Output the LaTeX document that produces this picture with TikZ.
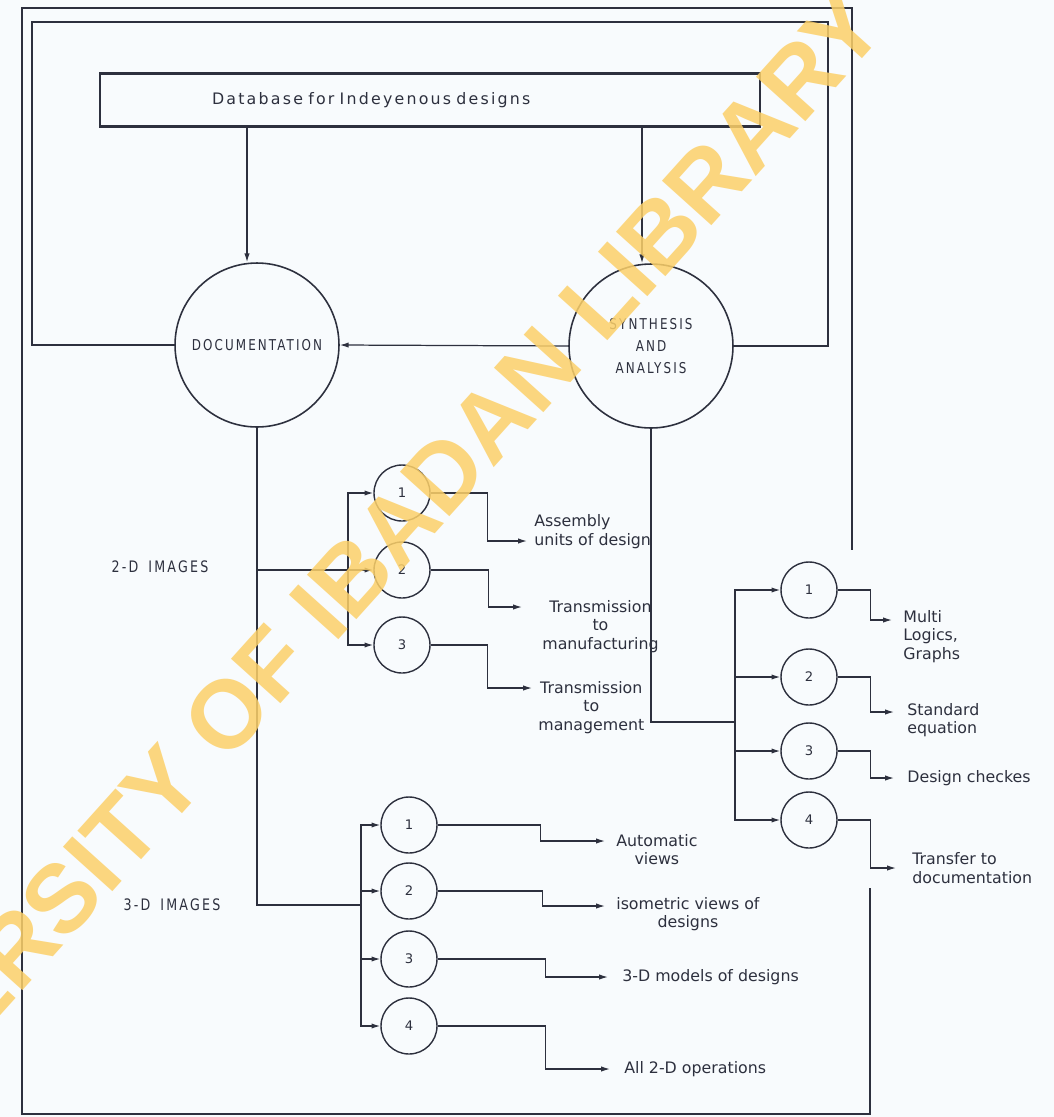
\documentclass[tikz,border=0pt]{standalone}
\usepackage{fontspec}
\usepackage{tikz}
\usetikzlibrary{arrows.meta, positioning, calc}
\newfontfamily\lettering{DejaVu Sans}
\newfontfamily\capletters[FakeStretch=0.8,LetterSpace=14,WordSpace=1.6]{DejaVu Sans}
\newfontfamily\titleletters[LetterSpace=14,WordSpace=2.4]{DejaVu Sans}
\newfontfamily\stampfont{Liberation Sans}
\definecolor{ink}{RGB}{45,48,62}
\definecolor{paper}{RGB}{248,251,253}
\definecolor{stamp}{RGB}{252,208,105}

\begin{document}
\begin{tikzpicture}[x=0.02cm, y=-0.02cm,
  line/.style={draw=ink, line width=0.7pt},
  frame/.style={draw=ink, line width=1.4pt},
  flow/.style={line, -{Latex[length=5pt,width=3pt]}},
  bigcirc/.style={circle, draw=ink, line width=0.9pt, minimum size=3.28cm,
    inner sep=0pt, text=ink, align=center,
    font=\capletters\fontsize{8.5}{12.5}\selectfont},
  numcirc/.style={circle, draw=ink, line width=0.8pt, minimum size=1.12cm,
    inner sep=0pt, text=ink, font=\lettering\fontsize{7.5}{9}\selectfont},
  lbl/.style={text=ink, inner sep=0pt, font=\lettering\fontsize{9}{10.5}\selectfont},
  grouplbl/.style={text=ink, inner sep=0pt, font=\capletters\fontsize{9}{11}\selectfont},
  dbbox/.style={draw=ink, line width=1.5pt, minimum width=13.2cm,
    minimum height=1.06cm, inner xsep=2.24cm, text width=8.72cm, align=left,
    text=ink, font=\titleletters\fontsize{9}{11}\selectfont}]
  \fill[paper] (0,0) rectangle (1054,1117);
  \useasboundingbox (0,0) rectangle (1054,1117);

  % database and the two main processes
  \node[dbbox] (db) at (430,100) {Database for Indeyenous designs};
  \node[bigcirc] (doc) at (257,345) {DOCUMENTATION};
  \node[bigcirc] (syn) at (651,346) {SYNTHESIS\\AND\\ANALYSIS};
  \coordinate (dL) at ($(doc.north)+(-10,0)$);
  \coordinate (sL) at ($(syn.north)+(-9,0)$);
  \draw[flow] (db.south -| dL) -- (dL);
  \draw[flow] (db.south -| sL) -- (sL);
  \draw[flow] (syn.west) -- (doc.east);

  % feedback frames
  \draw[line, line width=1pt] (doc.west) -| (32,22) -| (828,346) -- (syn.east);
  \draw[frame] (870,888) -- (870,1114) -- (22,1114) -- (22,8) -- (852,8) -- (852,550);

  % 2-D images
  \node[grouplbl] (img2) at (160,567) {2-D IMAGES};
  \foreach \n/\y in {1/493,2/570,3/645}
    \node[numcirc] (b\n) at (402,\y) {\n};
  \coordinate (j2) at (348,570);
  \draw[flow] (doc.south |- j2) -- (b2.west);
  \draw[flow] (j2) |- (b1.west);
  \draw[flow] (j2) |- (b3.west);
  \coordinate (ab1) at (527,541);
  \coordinate (ab2) at (522,607);
  \coordinate (ab3) at (532,688);
  \draw[flow] (b1.east) -- ++(57,0) |- (ab1);
  \draw[flow] (b2.east) -- ++(58,0) |- (ab2);
  \draw[flow] (b3.east) -- ++(57,0) |- (ab3);
  \node[lbl, align=left, anchor=south west] (tb1) at ($(ab1)+(7,8)$) {Assembly\\units of design};
  \node[lbl, align=center, anchor=north west] (tb2) at ($(ab2)+(20,-7)$) {Transmission\\to\\manufacturing};
  \node[lbl, align=center, anchor=north west] (tb3) at ($(ab3)+(6,-7)$) {Transmission\\to\\management};

  % 3-D images
  \node[grouplbl] (img3) at (172,905) {3-D IMAGES};
  \foreach \n/\y in {1/825,2/891,3/959,4/1026}
    \node[numcirc] (c\n) at (409,\y) {\n};
  \coordinate (j3) at (361,905);
  \draw[line] (doc.south) |- (j3);
  \foreach \n in {1,...,4}
    \draw[flow] (j3) |- (c\n.west);
  \coordinate (ac1) at (605,841);
  \coordinate (ac2) at (605,906);
  \coordinate (ac3) at (608,977);
  \coordinate (ac4) at (610,1069);
  \draw[flow] (c1.east) -- ++(103,0) |- (ac1);
  \draw[flow] (c2.east) -- ++(105,0) |- (ac2);
  \draw[flow] (c3.east) -- ++(108,0) |- (ac3);
  \draw[flow] (c4.east) -- ++(108,0) |- (ac4);
  \node[lbl, align=center, anchor=north west] (tc1) at ($(ac1)+(11,-7)$) {Automatic\\views};
  \node[lbl, align=center, anchor=north west] (tc2) at ($(ac2)+(11,-9)$) {isometric views of\\designs};
  \node[lbl, anchor=west] (tc3) at ($(ac3)+(14,0)$) {3-D models of designs};
  \node[lbl, anchor=west] (tc4) at ($(ac4)+(14,0)$) {All 2-D operations};

  % synthesis outputs
  \foreach \n/\y in {1/590,2/677,3/751,4/820}
    \node[numcirc] (s\n) at (809,\y) {\n};
  \coordinate (j4) at (735,722);
  \draw[line] (syn.south) |- (j4);
  \foreach \n in {1,...,4}
    \draw[flow] (j4) |- (s\n.west);
  \coordinate (as1) at (892,620);
  \coordinate (as2) at (894,712);
  \coordinate (as3) at (894,778);
  \coordinate (as4) at (896,868);
  \foreach \n in {1,...,4}
    \draw[flow] (s\n.east) -- ++(33,0) |- (as\n);
  \node[lbl, align=left, anchor=north west] (ts1) at ($(as1)+(11,-10)$) {Multi\\Logics,\\Graphs};
  \node[lbl, align=left, anchor=north west] (ts2) at ($(as2)+(13,-9)$) {Standard\\equation};
  \node[lbl, anchor=west] (ts3) at ($(as3)+(13,0)$) {Design checkes};
  \node[lbl, align=left, anchor=west] (ts4) at ($(as4)+(16,0)$) {Transfer to\\documentation};

  % library stamp
  \begin{scope}
    \clip (0,0) rectangle (1054,1117);
    \node[rotate=48, text=stamp, opacity=0.85, inner sep=0pt,
      font=\stampfont\bfseries\fontsize{55}{55}\selectfont] (stampmark) at (330,600)
      {UNIVERSITY OF IBADAN LIBRARY};
  \end{scope}
\end{tikzpicture}
\end{document}
